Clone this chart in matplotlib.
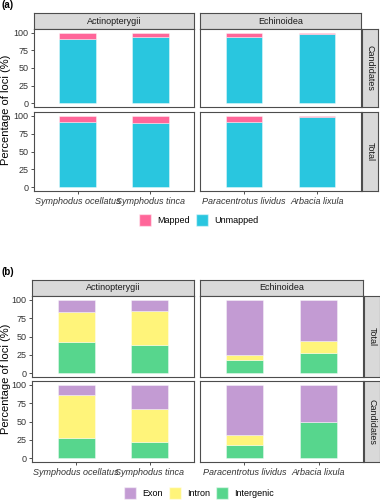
import numpy as np
import matplotlib
matplotlib.use("Agg")
import matplotlib.pyplot as plt
from matplotlib.patches import Patch

plt.rcParams['font.family'] = ['Liberation Sans', 'DejaVu Sans']

W, H = 380, 500

species = ["Symphodus ocellatus", "Symphodus tinca", "Paracentrotus lividus", "Arbacia lixula"]
groups = ["Actinopterygii", "Echinoidea"]

# (a) mapping of loci, in %
mapped_candidates = [9, 6.5, 6.5, 2]
unmapped_candidates = [91, 93.5, 93.5, 98]
mapped_total = [9.5, 10, 9.5, 2.5]
unmapped_total = [90.5, 90, 90.5, 97.5]

# (b) genomic position of loci, in %
exon_total = [17, 16, 75, 56]
intron_total = [41, 46, 7, 16]
intergenic_total = [42, 38, 18, 28]
exon_candidates = [14, 33, 68, 50]
intron_candidates = [59, 45, 13.5, 0]
intergenic_candidates = [27, 22, 18.5, 50]

col_mapped = "#FF6699"
col_unmapped = "#29C6DF"
col_exon = "#C39BD3"
col_intron = "#FFF47A"
col_intergenic = "#57D68D"

border = "#4d4d4d"
strip_fill = "#D9D9D9"

fig = plt.figure(figsize=(W / 100, H / 100), dpi=100)


def box(x0, y0, x1, y1):
    return [x0 / W, 1 - y1 / H, (x1 - x0) / W, (y1 - y0) / H]


def strip(x0, y0, x1, y1, text, rotation=0):
    ax = fig.add_axes(box(x0, y0, x1, y1))
    ax.set_xticks([])
    ax.set_yticks([])
    ax.set_facecolor(strip_fill)
    for s in ax.spines.values():
        s.set_color(border)
        s.set_linewidth(0.8)
    ax.text(0.5, 0.5, text, transform=ax.transAxes, ha="center", va="center",
            fontsize=6.5, color="#1a1a1a", rotation=rotation)


def panel(rect, layers, idx, left, bottom):
    ax = fig.add_axes(rect)
    pos = np.array([1, 2])
    base = np.zeros(2)
    for vals, col in layers:
        v = np.array(vals)[idx]
        ax.bar(pos, v, width=0.5, bottom=base, color=col,
               edgecolor=(1, 1, 1, 0.45), linewidth=0.6)
        base = base + v
    ax.set_xlim(0.4, 2.6)
    ax.set_ylim(-5, 105)
    ax.set_yticks([0, 25, 50, 75, 100])
    ax.set_xticks(pos)
    ax.tick_params(length=2.5, width=0.6, color="#333333", labelsize=6.5,
                   labelcolor="#333333", pad=1.5)
    if not left:
        ax.tick_params(axis="y", length=0, labelleft=False)
    if bottom:
        ax.set_xticklabels([species[i] for i in idx], fontstyle="italic")
    else:
        ax.tick_params(axis="x", length=0, labelbottom=False)
    for s in ax.spines.values():
        s.set_color(border)
        s.set_linewidth(0.8)
    return ax


def figure_part(label, ly, cols, strip_top, rows, row_names, row_layers, leg_y, handles):
    fig.text(1 / W, 1 - ly / H, label, fontsize=7, fontweight="bold", va="center")
    for g, (x0, x1) in enumerate(cols):
        strip(x0, strip_top[0], x1, strip_top[1], groups[g])
    for r, (y0, y1) in enumerate(rows):
        strip(cols[1][1] + 1, y0, cols[1][1] + 17, y1, row_names[r], rotation=270)
        for g, (x0, x1) in enumerate(cols):
            idx = [2 * g, 2 * g + 1]
            panel(box(x0, y0, x1, y1), row_layers[r], idx, g == 0, r == len(rows) - 1)
    mid = (rows[0][0] + rows[-1][1]) / 2
    fig.text(6 / W, 1 - mid / H, "Percentage of loci (%)", rotation=90,
             ha="center", va="center", fontsize=8)
    fig.legend(handles=handles, loc="center", bbox_to_anchor=(199 / W, 1 - leg_y / H),
               ncol=len(handles), frameon=False, fontsize=6.5, handlelength=1.3,
               handleheight=1.8, handletextpad=0.7, columnspacing=0.7)


# (a)
figure_part(
    "(a)", 5,
    [(34, 194), (200, 361)], (13, 29),
    [(29, 107), (112, 191)], ["Candidates", "Total"],
    [[(unmapped_candidates, col_unmapped), (mapped_candidates, col_mapped)],
     [(unmapped_total, col_unmapped), (mapped_total, col_mapped)]],
    220,
    [Patch(facecolor=col_mapped, edgecolor=(1, 1, 1, 0.5), label="Mapped"),
     Patch(facecolor=col_unmapped, edgecolor=(1, 1, 1, 0.5), label="Unmapped")],
)

# (b)
figure_part(
    "(b)", 272,
    [(32, 194), (200, 363)], (280, 296),
    [(296, 377), (381, 462)], ["Total", "Candidates"],
    [[(intergenic_total, col_intergenic), (intron_total, col_intron), (exon_total, col_exon)],
     [(intergenic_candidates, col_intergenic), (intron_candidates, col_intron), (exon_candidates, col_exon)]],
    493,
    [Patch(facecolor=col_exon, edgecolor=(1, 1, 1, 0.5), label="Exon"),
     Patch(facecolor=col_intron, edgecolor=(1, 1, 1, 0.5), label="Intron"),
     Patch(facecolor=col_intergenic, edgecolor=(1, 1, 1, 0.5), label="Intergenic")],
)

fig.savefig("out.png", dpi=100)
